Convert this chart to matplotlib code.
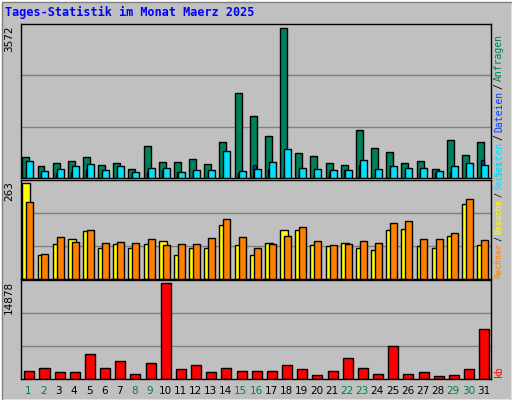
import matplotlib
matplotlib.use("Agg")
import matplotlib.pyplot as plt
from matplotlib.patches import Rectangle
import numpy as np

days = list(range(1, 32))
weekend = [1, 2, 8, 9, 15, 16, 22, 23, 29, 30]
hits = [493,275,347,396,493,299,347,226,760,372,372,444,323,857,2020,1487,1002,3572,590,517,347,299,1148,711,614,347,396,226,905,541,857]
files = [137,120,110,137,180,150,150,110,140,180,137,137,137,150,110,299,226,226,150,120,150,180,299,120,150,150,137,110,137,180,420]
pages = [396,178,226,275,323,202,275,154,250,250,154,202,202,638,178,226,372,687,250,226,202,202,420,226,275,250,250,178,275,347,299]
visits = [263,66,95,109,132,84,95,84,95,103,66,84,86,149,92,66,98,135,135,92,89,98,84,78,135,138,89,84,118,206,92]
hosts = [212,69,115,101,135,98,101,98,109,92,95,95,112,163,115,86,95,118,141,103,92,95,103,98,152,160,109,109,126,220,106]
kb = [1308,1635,1144,1144,3924,1635,2779,817,2452,14878,1471,2125,1144,1635,1308,1308,1308,2125,1471,654,1308,3270,1635,817,5068,817,1144,490,654,1471,7684]

W, H = 512, 400
fig = plt.figure(figsize=(W/100, H/100), dpi=100)
fig.patch.set_facecolor('#c0c0c0')
fig.patches.append(Rectangle((0, 0), 1, 1, transform=fig.transFigure, fill=False, ec='white', lw=2))
fig.patches.append(Rectangle((0.004, 0.0), 0.996, 0.995, transform=fig.transFigure, fill=False, ec='#808080', lw=1))

def ax_at(top, bottom, left=21, right=491):
    return fig.add_axes([left/W, 1-bottom/H, (right-left)/W, (bottom-top)/H])

x = np.array(days)
def style(ax, vmax, label):
    ax.set_facecolor('#c0c0c0')
    ax.set_xlim(0.5, 31.5)
    top = vmax*1.03
    ax.set_ylim(0, top)
    for f in (1/3, 2/3):
        ax.axhline(top*f, color='#808080', lw=1, zorder=0)
    ax.set_xticks([]); ax.set_yticks([])
    for s in ax.spines.values():
        s.set_color('black'); s.set_linewidth(1)
    ax.text(-0.025, 0.99, label, transform=ax.transAxes, rotation=90, ha='center', va='top',
            fontsize=7.5, color='black', family='DejaVu Sans')

ax1 = ax_at(24, 178)
style(ax1, max(hits), str(max(hits)))
ax1.bar(x-0.18, hits, 0.46, color='#00805c', ec='black', lw=1, zorder=2)
ax1.bar(x-0.08, files, 0.2, color='#0040ff', ec='black', lw=1, zorder=3)
ax1.bar(x+0.08, pages, 0.46, color='#00e0ff', ec='black', lw=1, zorder=4)

ax2 = ax_at(180, 279)
style(ax2, max(visits), str(max(visits)))
ax2.bar(x-0.15, visits, 0.52, color='#ffff00', ec='black', lw=1, zorder=2)
ax2.bar(x+0.08, hosts, 0.46, color='#ff8000', ec='black', lw=1, zorder=3)

ax3 = ax_at(280, 379)
style(ax3, max(kb), str(max(kb)))
ax3.bar(x+0.05, kb, 0.66, color='#ff0000', ec='black', lw=1, zorder=2)
for d in days:
    ax3.text(d, -0.12, str(d), transform=ax3.get_xaxis_transform(), ha='center', va='center',
             fontsize=7.5, color='#008040' if d in weekend else 'black')

fig.text(5/W, 1-12/H, 'Tages-Statistik im Monat Maerz 2025', color='#0000ff', fontsize=8.5,
         fontweight='bold', family='DejaVu Sans Mono', ha='left', va='center')

fig.canvas.draw()
rend = fig.canvas.get_renderer()
def vlabel(parts, ybottom, fs):
    y = ybottom
    for txt, col in parts:
        t = fig.text(499/W, 1-y/H, txt, rotation=90, color=col, fontsize=fs,
                     family='DejaVu Sans Mono', ha='center', va='bottom')
        bb = t.get_window_extent(rend)
        y -= bb.height + 2
vlabel([('Seiten', '#00e0ff'), ('/', 'black'), ('Dateien', '#0040ff'), ('/', 'black'), ('Anfragen', '#00805c')], 177, 7)
vlabel([('Rechner', '#ff8000'), ('/', 'black'), ('Besuche', '#ffff00'), ('/', 'black'), ('Seiten', '#00e0ff')], 278, 6)
vlabel([('kb', '#ff0000')], 377, 7)

fig.savefig('out.png', dpi=100, facecolor=fig.get_facecolor())
